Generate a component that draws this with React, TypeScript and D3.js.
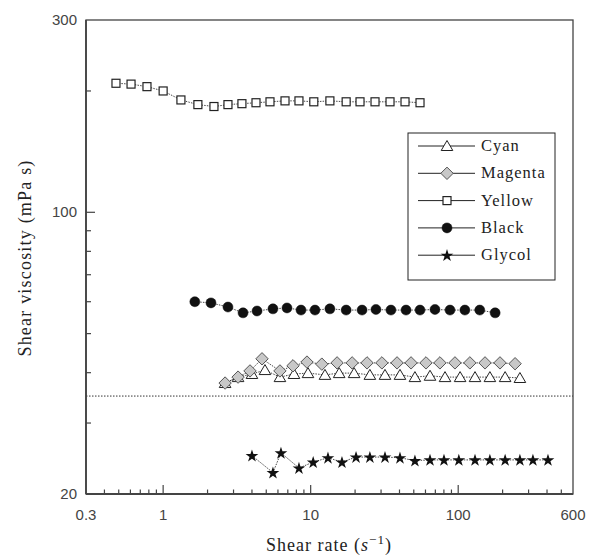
import React from "react";
import * as d3 from "d3";

// ---- data ----
const yellowX = [0.479, 0.606, 0.777, 1.0, 1.32, 1.72, 2.21, 2.75, 3.42, 4.26, 5.3, 6.7, 8.33, 10.5, 13.5, 17.4, 21.6, 27.3, 34.5, 43.6, 55.1];
const yellowY = [209, 208, 205, 200, 190, 185, 183, 185, 186, 187, 188, 189, 189, 188, 189, 188, 188, 188, 188, 188, 187];

const blackX = [1.64, 2.11, 2.75, 3.48, 4.33, 5.55, 6.91, 8.6, 10.7, 13.5, 17.4, 22.3, 27.7, 35.0, 44.3, 55.1, 69.6, 88.0, 111, 140, 178];
const blackY = [60, 59.6, 58.2, 56.3, 56.9, 57.6, 57.9, 57.2, 57.2, 57.6, 57.2, 57.2, 57.4, 57.2, 57.2, 57.2, 57.4, 57.2, 57.2, 57.2, 56.3];

const magentaX = [2.63, 3.22, 3.88, 4.68, 6.19, 7.59, 9.44, 11.9, 15.1, 19.1, 24.1, 30.4, 38.5, 47.9, 60.5, 75.2, 95.1, 120, 152, 192, 243];
const magentaY = [37.7, 39.0, 40.4, 43.3, 40.4, 41.6, 42.5, 42.0, 42.3, 42.3, 42.3, 42.3, 42.3, 42.3, 42.3, 42.3, 42.3, 42.3, 42.3, 42.3, 42.1];

const cyanX = [2.63, 3.22, 4.0, 4.9, 6.19, 7.71, 9.59, 12.5, 15.6, 19.7, 25.2, 31.9, 40.3, 50.9, 64.4, 81.4, 103, 130, 164, 208, 262];
const cyanY = [37.7, 39.0, 39.7, 40.6, 39.0, 39.7, 39.9, 39.5, 39.9, 39.9, 39.5, 39.5, 39.5, 39.0, 39.3, 39.0, 39.0, 39.0, 39.0, 39.0, 38.8];

const glycolX = [4.0, 5.55, 6.29, 8.33, 10.4, 13.1, 16.3, 20.3, 25.2, 31.9, 40.3, 50.9, 64.4, 80.1, 101, 130, 164, 208, 262, 321, 406];
const glycolY = [24.9, 22.6, 25.3, 23.2, 24.0, 24.6, 24.0, 24.7, 24.7, 24.7, 24.6, 24.2, 24.3, 24.3, 24.3, 24.3, 24.3, 24.3, 24.3, 24.3, 24.3];

const referenceLine = 35;

const xTickLabels = [0.3, 1, 10, 100, 600];
const yTickLabels = [20, 100, 300];
const xMinorTicks = [0.4, 0.5, 0.6, 0.7, 0.8, 0.9, 2, 3, 4, 5, 6, 7, 8, 9, 20, 30, 40, 50, 60, 70, 80, 90, 200, 300, 400, 500];
const xMajorTicks = [1, 10, 100];
const yMinorTicks = [30, 40, 50, 60, 70, 80, 90, 200];
const yMajorTicks = [100];

const legendNames = ["Cyan", "Magenta", "Yellow", "Black", "Glycol"];

type Kind = "triangle" | "diamond" | "square" | "circle" | "star";

const series: { name: string; kind: Kind; xs: number[]; ys: number[] }[] = [
  { name: "Yellow", kind: "square", xs: yellowX, ys: yellowY },
  { name: "Black", kind: "circle", xs: blackX, ys: blackY },
  { name: "Cyan", kind: "triangle", xs: cyanX, ys: cyanY },
  { name: "Magenta", kind: "diamond", xs: magentaX, ys: magentaY },
  { name: "Glycol", kind: "star", xs: glycolX, ys: glycolY },
];
const legendKinds: Kind[] = ["triangle", "diamond", "square", "circle", "star"];

const W = 589;
const H = 556;
const L = 86, R = 573, T = 20, B = 494;

const x = d3.scaleLog().domain([0.3, 600]).range([L, R]);
const y = d3.scaleLog().domain([20, 300]).range([B, T]);

const starPath = d3.symbol().type(d3.symbolStar).size(50)() as string;

function Marker({ kind, cx, cy }: { kind: Kind; cx: number; cy: number }) {
  switch (kind) {
    case "square":
      return <rect x={cx - 4} y={cy - 4} width={8} height={8} fill="#fff" stroke="#222" strokeWidth={1.2} />;
    case "circle":
      return <circle cx={cx} cy={cy} r={5} fill="#111" stroke="#111" strokeWidth={0.5} />;
    case "triangle":
      return (
        <path
          d={`M${cx},${cy - 5.5} L${cx + 5.8},${cy + 4.5} L${cx - 5.8},${cy + 4.5} Z`}
          fill="#fff"
          stroke="#222"
          strokeWidth={1}
        />
      );
    case "diamond":
      return (
        <path
          d={`M${cx},${cy - 6.2} L${cx + 6.2},${cy} L${cx},${cy + 6.2} L${cx - 6.2},${cy} Z`}
          fill="#c8c8c8"
          stroke="#555"
          strokeWidth={1}
        />
      );
    case "star":
      return <path d={starPath} transform={`translate(${cx},${cy + 0.5})`} fill="#111" />;
  }
}

export default function App() {
  const line = d3
    .line<[number, number]>()
    .x((d) => x(d[0]))
    .y((d) => y(d[1]));

  const sans = "'Liberation Sans', Arial, sans-serif";
  const serif = "'Liberation Serif', 'Times New Roman', serif";

  const legX = 408, legY = 133, legW = 147, legH = 147;
  const rowY = (i: number) => 146 + i * 27.3;

  return (
    <svg width={W} height={H} style={{ position: "absolute", left: 0, top: 0, background: "#fff" }}>
      <rect x={0} y={0} width={W} height={H} fill="#fff" />
      {/* reference dotted line */}
      <line x1={L} x2={R} y1={y(referenceLine)} y2={y(referenceLine)} stroke="#333" strokeWidth={1} strokeDasharray="1.5 1.5" />

      {/* series lines */}
      {series.map((s) => (
        <path
          key={s.name + "-l"}
          d={line(s.xs.map((v, i) => [v, s.ys[i]]) as [number, number][]) || ""}
          fill="none"
          stroke="#333"
          strokeWidth={0.9}
          strokeDasharray="1.5 1.2"
        />
      ))}
      {/* series markers */}
      {series.map((s) => (
        <g key={s.name + "-m"}>
          {s.xs.map((v, i) => (
            <Marker key={i} kind={s.kind} cx={x(v)} cy={y(s.ys[i])} />
          ))}
        </g>
      ))}

      {/* frame */}
      <rect x={L} y={T} width={R - L} height={B - T} fill="none" stroke="#444" strokeWidth={1.3} />
      <line x1={L} x2={L} y1={T} y2={B} stroke="#444" strokeWidth={1.8} />
      <line x1={L} x2={R} y1={B} y2={B} stroke="#444" strokeWidth={1.8} />

      {/* x ticks */}
      {xMinorTicks.map((t) => (
        <line key={"xm" + t} x1={x(t)} x2={x(t)} y1={B} y2={B - 4.5} stroke="#444" strokeWidth={1.2} />
      ))}
      {xMajorTicks.map((t) => (
        <line key={"xM" + t} x1={x(t)} x2={x(t)} y1={B} y2={B - 9} stroke="#444" strokeWidth={1.2} />
      ))}
      {/* y ticks */}
      {yMinorTicks.map((t) => (
        <line key={"ym" + t} x1={L} x2={L + 5} y1={y(t)} y2={y(t)} stroke="#444" strokeWidth={1.2} />
      ))}
      {yMajorTicks.map((t) => (
        <line key={"yM" + t} x1={L} x2={L + 9} y1={y(t)} y2={y(t)} stroke="#444" strokeWidth={1.2} />
      ))}

      {/* tick labels */}
      {xTickLabels.map((t) => (
        <text key={"xl" + t} x={x(t)} y={520} textAnchor="middle" fontFamily={sans} fontSize={15} fill="#444">
          {String(t)}
        </text>
      ))}
      {yTickLabels.map((t) => (
        <text key={"yl" + t} x={77} y={y(t) + 5} textAnchor="end" fontFamily={sans} fontSize={15} fill="#444">
          {String(t)}
        </text>
      ))}

      {/* axis titles */}
      <text x={329} y={551} textAnchor="middle" fontFamily={serif} fontSize={18} fill="#222" letterSpacing={1}>
        Shear rate (<tspan fontStyle="italic">s</tspan>
        <tspan dy={-7} fontSize={13}>−1</tspan>
        <tspan dy={7}>)</tspan>
      </text>
      <text
        transform={`translate(31,258) rotate(-90)`}
        textAnchor="middle"
        fontFamily={serif}
        fontSize={18}
        fill="#222"
        letterSpacing={1.2}
      >
        Shear viscosity (mPa s)
      </text>

      {/* legend */}
      <rect x={legX} y={legY} width={legW} height={legH} fill="#fff" stroke="#222" strokeWidth={1} />
      {legendNames.map((n, i) => (
        <g key={"lg" + n}>
          <line x1={418} x2={475} y1={rowY(i)} y2={rowY(i)} stroke="#222" strokeWidth={1} />
          <Marker kind={legendKinds[i]} cx={447} cy={rowY(i)} />
          <text x={481} y={rowY(i) + 5} fontFamily={serif} fontSize={16.5} fill="#222" letterSpacing={1}>
            {n}
          </text>
        </g>
      ))}
    </svg>
  );
}
